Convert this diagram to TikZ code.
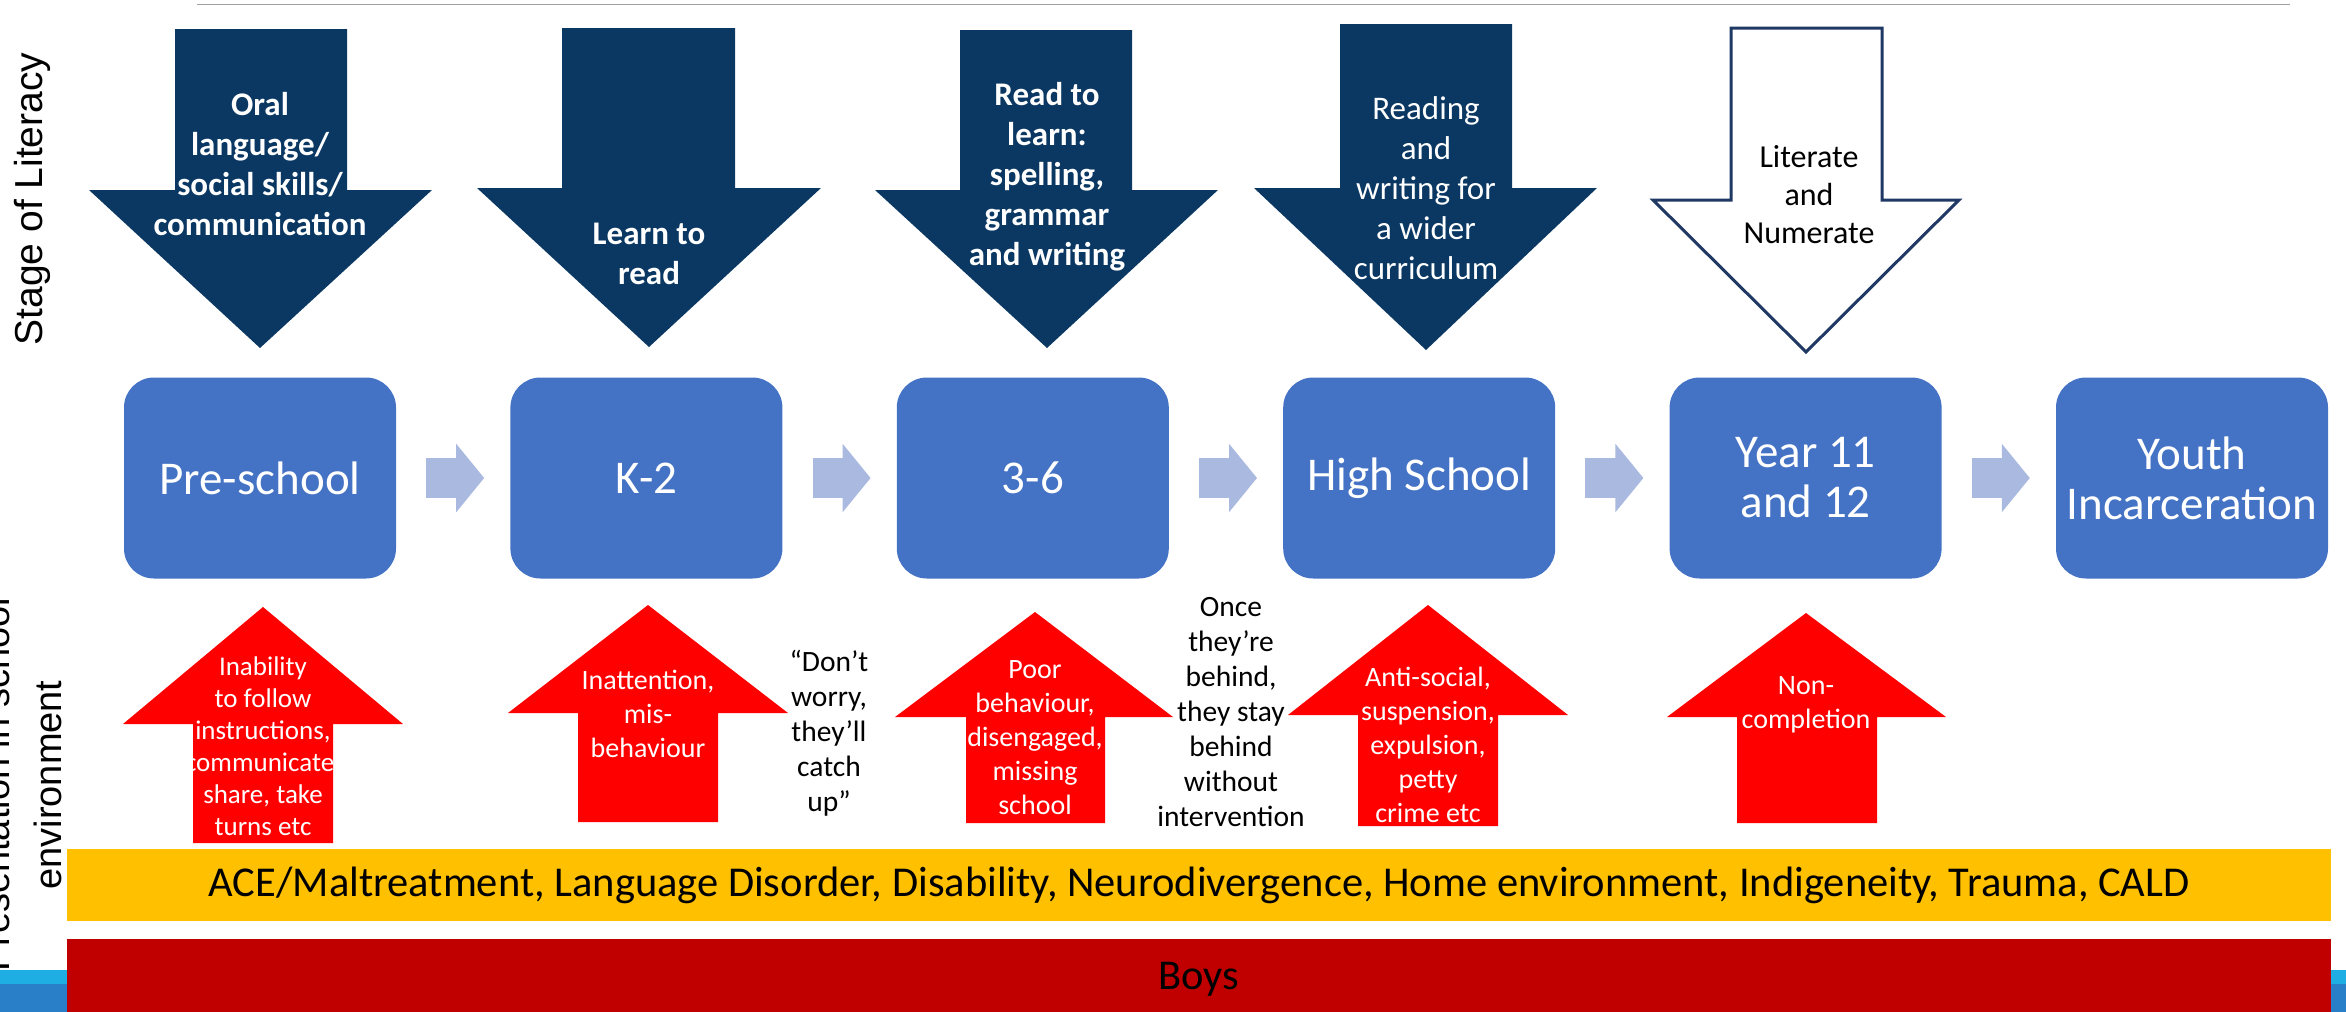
\documentclass[tikz,border=0pt]{standalone}
\usepackage{fontspec}
\setmainfont{Carlito}
\newfontfamily\sidefont{Liberation Sans}
\usetikzlibrary{positioning,arrows.meta}

\definecolor{boxblue}{RGB}{68,114,196}
\definecolor{stageblue}{RGB}{11,56,99}
\definecolor{outlineblue}{RGB}{31,56,100}
\definecolor{flowblue}{RGB}{170,185,223}
\definecolor{warnred}{RGB}{255,0,0}
\definecolor{bandyellow}{RGB}{255,192,0}
\definecolor{banddark}{RGB}{192,0,0}
\definecolor{stripblue}{RGB}{30,174,228}
\definecolor{stripdark}{RGB}{42,128,200}
\definecolor{rulegray}{RGB}{160,160,160}

\begin{document}
\begin{tikzpicture}[x=1pt, y=-1pt,
    box/.style={fill=boxblue, text=white, rounded corners=30pt, minimum width=272pt, minimum height=201pt, align=center, font=\fontsize{47}{50}\selectfont},
    flow/.style={draw=flowblue, line width=40pt, shorten <=30pt, shorten >=26pt, -{Triangle[length=28pt, width=67pt]}},
    stage_text/.style={text=white, align=center, inner sep=0pt, font=\fontsize{33}{40}\selectfont},
    stage_bold/.style={stage_text, font=\fontsize{33}{40}\selectfont\bfseries},
    issue_text/.style={text=white, align=center, inner sep=0pt, font=\fontsize{28}{34}\selectfont},
    note/.style={align=center, inner sep=0pt, font=\fontsize{29.5}{35}\selectfont},
    band/.style={minimum width=2264pt, inner sep=0pt, font=\fontsize{42.5}{48}\selectfont}]
    \useasboundingbox (0,0) rectangle (2346,1012);

    \draw[rulegray, line width=1.5pt] (197,4.5) -- (2290,4.5);

    % stage of literacy
    \fill[stageblue] (175,29) -- (347,29) -- (347,190) -- (432,190) -- (260,348) -- (89,190) -- (175,190) -- cycle;
    \fill[stageblue] (562,28) -- (735,28) -- (735,188) -- (821,188) -- (649,347) -- (477,188) -- (562,188) -- cycle;
    \fill[stageblue] (960,30) -- (1132,30) -- (1132,190) -- (1218,190) -- (1047,348) -- (875,190) -- (960,190) -- cycle;
    \fill[stageblue] (1340,24) -- (1512,24) -- (1512,188) -- (1597,188) -- (1426,350) -- (1254,188) -- (1340,188) -- cycle;
    \draw[outlineblue, line width=3pt, fill=white] (1731,28) -- (1882,28) -- (1882,200) -- (1959,200) -- (1806,352) -- (1653,200) -- (1731,200) -- cycle;

    \node[stage_bold] at (260,164) (oral) {Oral\\language/\\social skills/\\communication};
    \node[stage_bold] at (649,254) (learn_read) {Learn to\\read};
    \node[stage_bold] at (1047,177) (read_learn) {Read to\\learn:\\spelling,\\grammar\\and writing};
    \node[stage_text] at (1426,188) (wider) {Reading\\and\\writing for\\a wider\\curriculum};
    \node[stage_text, text=black, font=\fontsize{32}{38}\selectfont] at (1809,195) (literate) {Literate\\and\\Numerate};

    % schooling
    \node[box] at (260,478) (pre) {Pre-school};
    \node[box, right=114pt of pre] (k2) {K-2};
    \node[box, right=114pt of k2] (mid) {3-6};
    \node[box, right=114pt of mid] (high) {High School};
    \node[box, right=114pt of high] (senior) {Year 11\\and 12};
    \node[box, right=114pt of senior] (youth) {Youth\\Incarceration};

    \draw[flow] (pre) -- (k2);
    \draw[flow] (k2) -- (mid);
    \draw[flow] (mid) -- (high);
    \draw[flow] (high) -- (senior);
    \draw[flow] (senior) -- (youth);

    % presentation in school
    \fill[warnred] (193,843) -- (193,724) -- (123,724) -- (263,607) -- (403,724) -- (333,724) -- (333,843) -- cycle;
    \fill[warnred] (578,822) -- (578,713) -- (508,713) -- (648,605) -- (788,713) -- (718,713) -- (718,822) -- cycle;
    \fill[warnred] (966,823) -- (966,717) -- (895,717) -- (1035,612) -- (1173,717) -- (1105,717) -- (1105,823) -- cycle;
    \fill[warnred] (1358,826) -- (1358,715) -- (1288,715) -- (1428,605) -- (1568,715) -- (1498,715) -- (1498,826) -- cycle;
    \fill[warnred] (1737,823) -- (1737,717) -- (1667,717) -- (1806,613) -- (1946,717) -- (1877,717) -- (1877,823) -- cycle;

    \node[issue_text, font=\fontsize{27}{32}\selectfont] at (263,746) (inability) {Inability\\to follow\\instructions,\\communicate,\\share, take\\turns etc};
    \node[issue_text] at (648,714) (inattention) {Inattention,\\mis-\\behaviour};
    \node[issue_text] at (1035,738) (poor) {Poor\\behaviour,\\disengaged,\\missing\\school};
    \node[issue_text] at (1428,745) (antisocial) {Anti-social,\\suspension,\\expulsion,\\petty\\crime etc};
    \node[issue_text] at (1806,705) (noncompletion) {Non-\\completion};

    \node[note] at (829,733) (catch_up) {“Don’t\\worry,\\they’ll\\catch\\up”};
    \node[note] at (1231,712) (stay_behind) {Once\\they’re\\behind,\\they stay\\behind\\without\\intervention};

    % background factors
    \fill[stripblue] (0,970) rectangle (2346,1012);
    \fill[stripdark] (0,984) rectangle (2346,1012);
    \node[band, fill=bandyellow, minimum height=72pt] at (1199,885) (factors) {ACE/Maltreatment, Language Disorder, Disability, Neurodivergence, Home environment, Indigeneity, Trauma, CALD};
    \node[band, fill=banddark, minimum height=80pt] at (1199,979) (boys) {Boys};

    \node[rotate=90, inner sep=0pt, font=\sidefont\fontsize{39}{46}\selectfont] at (32,199) (stage_label) {Stage of Literacy};
    \node[rotate=90, align=center, inner sep=0pt, font=\sidefont\fontsize{38}{52}\selectfont] at (22,785) (school_label) {Presentation in school\\environment};
\end{tikzpicture}
\end{document}
